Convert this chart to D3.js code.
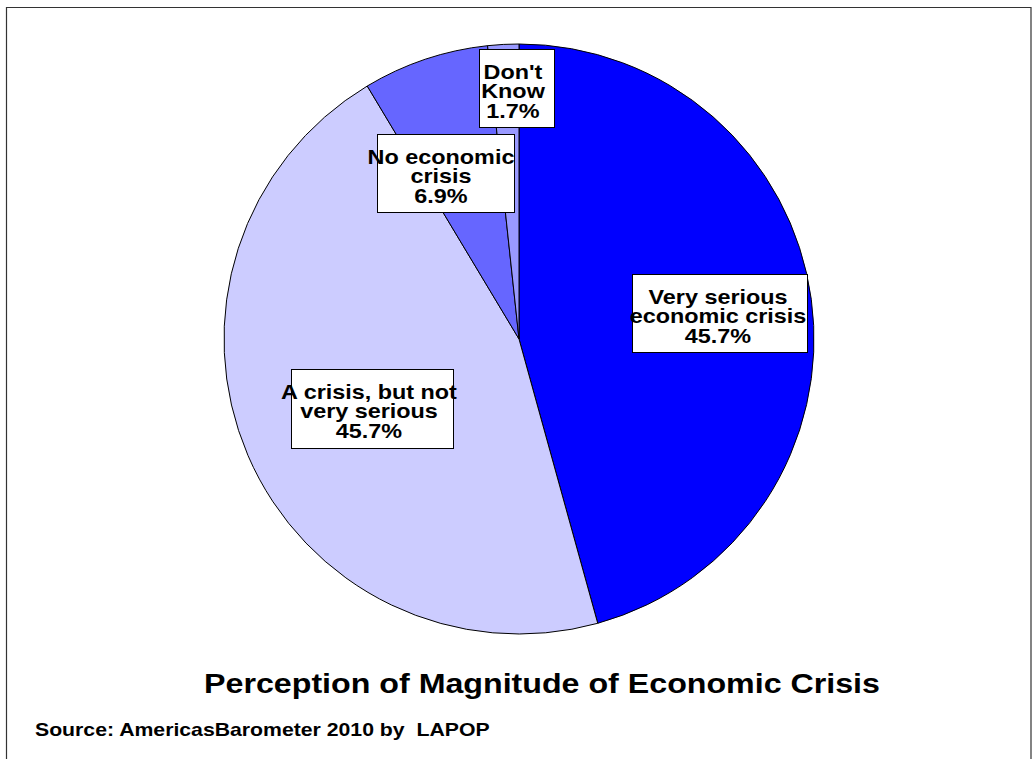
<!DOCTYPE html>
<html>
<head>
<meta charset="utf-8">
<script src="https://cdn.jsdelivr.net/npm/d3@7"></script>
<style>
  html, body { margin: 0; padding: 0; background: #fff; }
  svg { display: block; }
  text { font-family: "Liberation Sans", Arial, sans-serif; font-weight: bold; fill: #000; white-space: pre; }
</style>
</head>
<body>
<svg id="chart" width="1032" height="759"></svg>
<script>
// ---- data ----
const categories = [
  "Very serious economic crisis",
  "A crisis, but not very serious",
  "No economic crisis",
  "Don't Know"
];
const labelLines = [
  ["Very serious", "economic crisis"],
  ["A crisis, but not", "very serious"],
  ["No economic", "crisis"],
  ["Don't", "Know"]
];
const values = [45.7, 45.7, 6.9, 1.7];
const title = "Perception of Magnitude of Economic Crisis";
const source = "Source: AmericasBarometer 2010 by  LAPOP";

// ---- styling / layout ----
const colors = ["#0000FF", "#CCCCFF", "#6666FF", "#9999FF"];
const boxes = [ // label box layout: x, y, w, h, text centre x
  { x: 632, y: 274, w: 175, h: 78, cx: 718 },
  { x: 291, y: 369, w: 162, h: 79, cx: 369 },
  { x: 377, y: 134, w: 137, h: 78, cx: 441 },
  { x: 479, y: 49,  w: 75,  h: 78, cx: 513 }
];

const svg = d3.select("#chart");

// frame
svg.append("path")
  .attr("d", "M6.5,759 L6.5,7.5 L1031,7.5 L1031,759")
  .attr("fill", "none")
  .attr("stroke", "#333")
  .attr("stroke-width", 1.2);

const cx = 519, cy = 339, r = 295;
const pie = d3.pie().sort(null).value(d => d)(values);
const arc = d3.arc().innerRadius(0).outerRadius(r);

const g = svg.append("g").attr("transform", `translate(${cx},${cy})`);
g.selectAll("path.slice")
  .data(pie)
  .join("path")
  .attr("class", "slice")
  .attr("d", arc)
  .attr("fill", (d, i) => colors[i])
  .attr("stroke", "#000")
  .attr("stroke-width", 1);

function stretchedText(sel, x, y, str, size, sx) {
  sel.append("text")
    .attr("transform", `translate(${x},${y}) scale(${sx},1)`)
    .attr("text-anchor", "middle")
    .attr("font-size", size)
    .text(str);
}

// labels
const fmt = d3.format(".1f");
categories.forEach((c, i) => {
  const b = boxes[i];
  const lg = svg.append("g").attr("class", "label");
  lg.append("rect")
    .attr("x", b.x + 0.5).attr("y", b.y + 0.5)
    .attr("width", b.w).attr("height", b.h)
    .attr("fill", "#fff").attr("stroke", "#000").attr("stroke-width", 1);
  const lines = labelLines[i].concat([fmt(values[i]) + "%"]);
  lines.forEach((ln, k) => {
    stretchedText(lg, b.cx, b.y + 29.5 + k * 19.8, ln, 19.5, 1.2);
  });
});

// title & source
const tg = svg.append("g");
stretchedText(tg, 542, 693, title, 28, 1.15);
svg.append("text")
  .attr("transform", "translate(35,736) scale(1.18,1)")
  .attr("font-size", 18)
  .text(source);
</script>
</body>
</html>
